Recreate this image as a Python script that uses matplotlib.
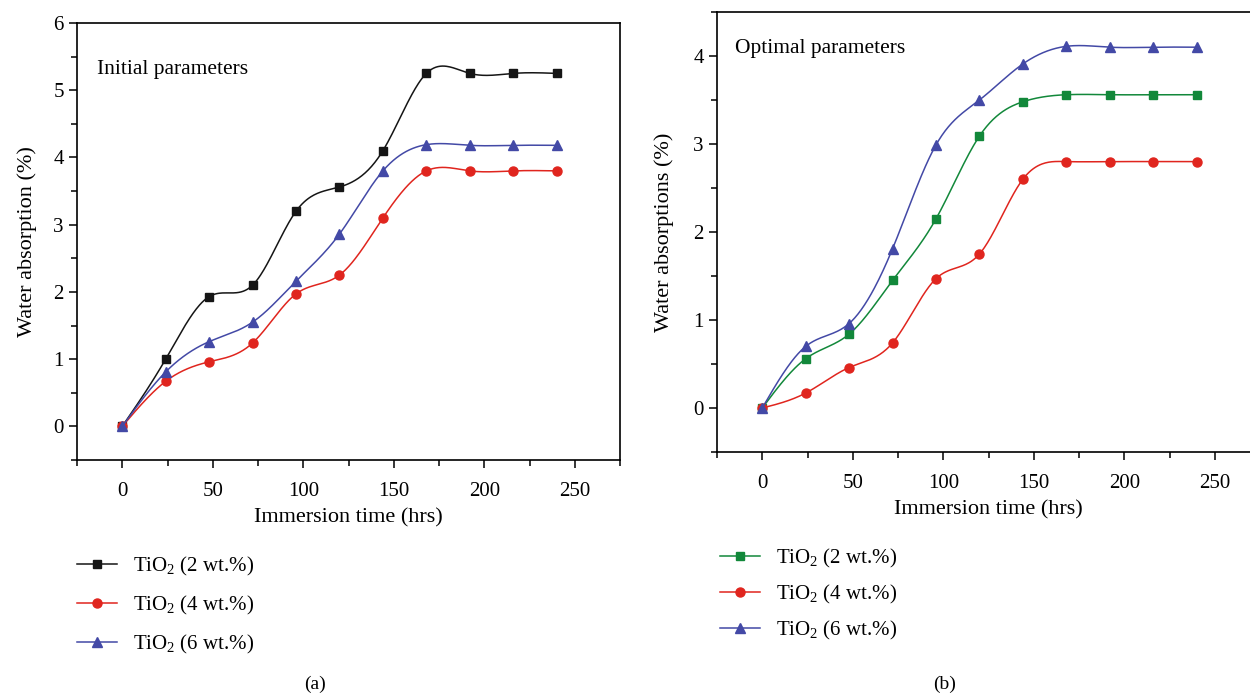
import numpy as np
import matplotlib.pyplot as plt
from matplotlib.ticker import MultipleLocator

plt.rcParams['font.family'] = ['Liberation Serif', 'DejaVu Serif']
plt.rcParams['mathtext.fontset'] = 'custom'
plt.rcParams['mathtext.rm'] = 'Liberation Serif'

# donnees
hours = [0, 24, 48, 72, 96, 120, 144, 168, 192, 216, 240]

init_2 = [0, 1.0, 1.93, 2.10, 3.20, 3.56, 4.10, 5.25, 5.25, 5.25, 5.25]
init_4 = [0, 0.67, 0.96, 1.24, 1.97, 2.25, 3.10, 3.80, 3.80, 3.80, 3.80]
init_6 = [0, 0.81, 1.26, 1.55, 2.16, 2.86, 3.80, 4.19, 4.18, 4.18, 4.18]

opt_2 = [0, 0.56, 0.84, 1.45, 2.15, 3.09, 3.48, 3.56, 3.56, 3.56, 3.56]
opt_4 = [0, 0.17, 0.46, 0.74, 1.47, 1.75, 2.60, 2.80, 2.80, 2.80, 2.80]
opt_6 = [0, 0.70, 0.96, 1.81, 2.99, 3.50, 3.91, 4.11, 4.10, 4.10, 4.10]

labels = ['TiO$_2$ (2 wt.%)', 'TiO$_2$ (4 wt.%)', 'TiO$_2$ (6 wt.%)']

BLACK = '#151515'
RED = '#e0251e'
BLUE = '#4349a6'
GREEN = '#12883a'
MS = {'s': 6, 'o': 6.5, '^': 7}


def spline(x, y, n=400):
    """spline cubique naturelle pour tracer la courbe lissee (comme Origin)"""
    x = np.asarray(x, float)
    y = np.asarray(y, float)
    m = len(x)
    h = np.diff(x)
    A = np.zeros((m, m))
    b = np.zeros(m)
    A[0, 0] = A[-1, -1] = 1
    for i in range(1, m - 1):
        A[i, i - 1] = h[i - 1]
        A[i, i] = 2 * (h[i - 1] + h[i])
        A[i, i + 1] = h[i]
        b[i] = 6 * ((y[i + 1] - y[i]) / h[i] - (y[i] - y[i - 1]) / h[i - 1])
    M = np.linalg.solve(A, b)
    xs = np.linspace(x[0], x[-1], n)
    k = np.clip(np.searchsorted(x, xs) - 1, 0, m - 2)
    t0 = xs - x[k]
    t1 = x[k + 1] - xs
    hk = h[k]
    ys = (M[k] * t1 ** 3 + M[k + 1] * t0 ** 3) / (6 * hk) \
        + (y[k] / hk - M[k] * hk / 6) * t1 + (y[k + 1] / hk - M[k + 1] * hk / 6) * t0
    return xs, ys


def draw(ax, x, y, color, marker, label):
    xs, ys = spline(x, y)
    ax.plot(xs, ys, color=color, lw=1.1)
    ax.plot(x, y, ls='none', marker=marker, color=color, ms=MS[marker])
    # handle pour la legende
    return ax.plot([], [], color=color, lw=1.1, marker=marker, ms=MS[marker], label=label)[0]


def style(ax, ymax, ylabel, ypad):
    ax.set_xlim(-25, 275)
    ax.set_ylim(-0.5, ymax)
    ax.xaxis.set_major_locator(MultipleLocator(50))
    ax.xaxis.set_minor_locator(MultipleLocator(25))
    ax.yaxis.set_major_locator(MultipleLocator(1))
    ax.yaxis.set_minor_locator(MultipleLocator(0.5))
    ax.tick_params(which='both', direction='out', labelsize=15, width=1.1)
    ax.tick_params(which='major', length=6)
    ax.tick_params(which='minor', length=4)
    ax.tick_params(axis='x', pad=10)
    for s in ax.spines.values():
        s.set_linewidth(1.2)
    ax.set_xlabel('Immersion time (hrs)', fontsize=16, labelpad=5)
    ax.set_ylabel(ylabel, fontsize=16, labelpad=ypad)


fig = plt.figure(figsize=(12.5, 6.94), dpi=100)

ax1 = fig.add_axes([0.0616, 0.3372, 0.4344, 0.6297])
h1 = [draw(ax1, hours, init_2, BLACK, 's', labels[0]),
      draw(ax1, hours, init_4, RED, 'o', labels[1]),
      draw(ax1, hours, init_6, BLUE, '^', labels[2])]
style(ax1, 6, 'Water absorption (%)', 12)
ax1.text(-14, 5.31, 'Initial parameters', fontsize=15.5, va='center')

# le cadre de droite depasse de l'image dans l'original
ax2 = fig.add_axes([0.5736, 0.3487, 0.4344, 0.634])
h2 = [draw(ax2, hours, opt_2, GREEN, 's', labels[0]),
      draw(ax2, hours, opt_4, RED, 'o', labels[1]),
      draw(ax2, hours, opt_6, BLUE, '^', labels[2])]
style(ax2, 4.5, 'Water absorptions (%)', 14)
ax2.text(-15, 4.09, 'Optimal parameters', fontsize=15.5, va='center')

fig.legend(handles=h1, loc='upper left', bbox_to_anchor=(0.0552, 0.212), frameon=False,
           fontsize=15, handlelength=1.9, handletextpad=0.75, labelspacing=0.75,
           borderaxespad=0)
fig.legend(handles=h2, loc='upper left', bbox_to_anchor=(0.5696, 0.224), frameon=False,
           fontsize=15, handlelength=1.9, handletextpad=0.75, labelspacing=0.62,
           borderaxespad=0)

fig.text(315 / 1250, 1 - 684 / 694, '(a)', fontsize=14, ha='center', va='center')
fig.text(945 / 1250, 1 - 684 / 694, '(b)', fontsize=14, ha='center', va='center')

fig.savefig('out.png', dpi=100)
